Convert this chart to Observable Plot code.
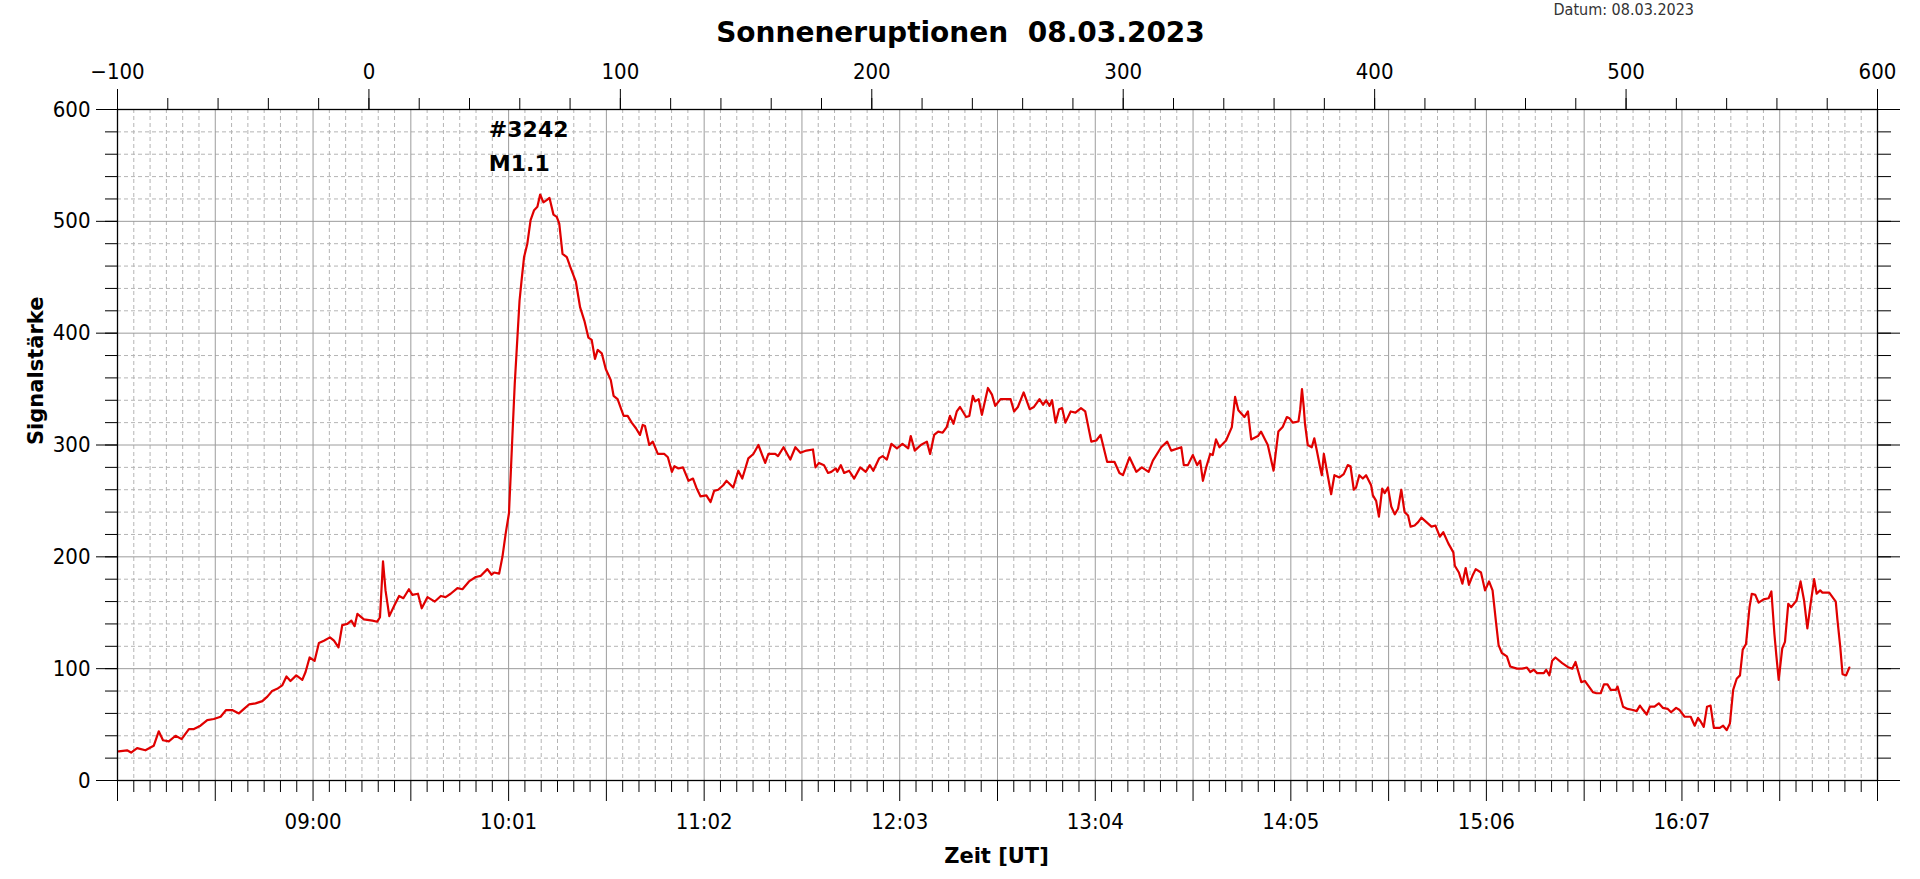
<!DOCTYPE html>
<html>
<head>
<meta charset="utf-8">
<script src="https://cdn.jsdelivr.net/npm/d3@7"></script>
<script src="https://cdn.jsdelivr.net/npm/@observablehq/plot@0.6"></script>
<style>
  html, body { margin: 0; padding: 0; background: #fff; }
</style>
</head>
<body>
<div id="chart"></div>
<script>
const titleText = "Sonneneruptionen  08.03.2023";
const datumText = "Datum: 08.03.2023";
const yLabel = "Signalstärke";
const xLabel = "Zeit [UT]";

const topTicks = [-100, 0, 100, 200, 300, 400, 500, 600];
const yTicks = [0, 100, 200, 300, 400, 500, 600];
const timeLabels = ["09:00", "10:01", "11:02", "12:03", "13:04", "14:05", "15:06", "16:07"];

const annotX = [47.7, 47.7];
const annotY = [575, 545];
const annotText = ["#3242", "M1.1"];

const sampleX = [
-99.5,-96.2,-94.6,-92.2,-88.9,-85.6,-83.6,-81.9,-79.6,-76.9,-74.5,-71.6,-69.6,-67.0,-64.3,-61.7,-59.0,-56.8,-54.4,-51.7,
-49.7,-47.7,-45.1,-42.4,-40.4,-38.5,-36.5,-34.5,-32.8,-31.2,-28.9,-26.5,-25.2,-23.6,-21.6,-19.9,-17.9,-15.5,-13.9,-12.1,
-10.6,-8.6,-7.0,-5.7,-4.6,-2.0,1.4,3.3,4.4,5.6,6.6,8.1,10.0,12.0,13.7,15.9,17.3,19.5,21.0,23.3,
26.2,28.6,30.5,32.5,35.2,37.2,39.8,42.5,44.5,47.1,48.8,49.8,51.8,53.1,54.4,55.7,56.4,57.1,58.0,59.0,
59.9,60.7,61.7,63.0,64.3,65.7,67.0,68.1,69.4,70.7,71.8,73.4,74.7,75.7,77.0,78.7,80.3,82.3,84.0,85.7,
87.3,88.6,89.9,91.0,92.6,94.2,96.2,97.3,98.9,101.3,102.9,104.5,106.2,107.8,108.9,109.8,111.5,112.9,114.9,117.5,
118.9,120.5,121.5,123.1,124.9,127.1,128.9,130.2,131.9,134.2,135.9,137.3,138.9,140.9,142.2,144.9,146.9,148.5,150.9,152.9,
154.9,157.6,158.9,161.6,162.7,164.9,167.6,169.6,171.6,174.0,176.6,177.6,179.0,181.0,182.6,183.9,185.7,186.3,187.7,189.0,
191.0,193.0,195.4,197.6,199.2,200.6,202.9,204.3,206.0,207.8,210.0,212.2,214.5,215.5,217.1,219.5,221.9,223.2,224.8,226.4,
228.2,229.8,231.1,232.5,233.8,235.1,237.5,238.8,240.2,241.1,242.5,243.8,246.2,247.8,249.1,251.2,255.2,256.6,258.1,260.4,
262.8,264.5,266.7,268.1,269.4,270.7,271.7,273.1,274.5,275.7,277.0,279.1,281.0,283.2,284.9,287.3,289.3,291.0,293.6,296.5,
298.5,299.9,302.5,305.2,307.4,310.1,311.8,315.1,317.5,319.1,323.1,324.1,325.7,327.7,329.4,330.6,331.7,333.0,334.6,335.6,
336.9,338.3,340.9,343.2,344.5,345.8,348.2,349.6,350.9,353.6,354.8,357.5,359.8,361.7,363.4,365.1,366.1,367.4,369.7,370.4,
371.1,371.8,372.3,373.4,375.0,376.0,377.1,378.4,379.0,379.8,381.0,382.7,384.0,386.0,387.7,389.3,390.4,391.7,392.6,393.9,
395.3,396.6,398.6,399.3,400.6,401.7,403.0,404.0,405.3,406.6,408.0,409.3,410.6,411.9,413.3,414.3,415.9,417.3,418.6,420.6,
422.6,424.2,425.9,427.3,429.3,431.3,431.9,433.5,434.9,436.2,437.5,438.9,440.2,442.3,443.9,445.5,446.9,448.2,449.3,450.6,
452.6,453.9,456.6,458.6,460.6,461.9,463.3,464.6,467.3,468.2,469.5,470.6,471.9,474.6,477.2,478.6,479.9,482.2,483.6,486.8,
488.2,489.9,491.2,492.6,493.9,495.9,496.6,498.8,500.6,502.8,504.2,505.5,506.8,508.2,509.5,511.3,513.0,514.6,516.6,517.9,
519.9,521.3,523.3,525.7,527.3,528.6,529.6,530.9,532.2,533.6,534.9,537.3,538.6,540.0,541.3,542.6,544.0,545.3,546.4,547.7,
549.1,550.0,551.4,552.7,554.7,556.7,557.8,559.0,559.8,560.7,562.1,563.2,564.5,565.7,567.8,569.4,570.8,572.1,573.4,574.8,
575.8,577.2,578.1,580.8,583.4,584.1,585.2,586.1,587.5,588.8
];

const signal = [
26,27,25,29,27,31,44,36,35,40,37,46,46,49,54,55,57,63,63,60,
64,68,69,71,75,80,82,85,93,89,94,90,97,110,107,123,125,128,125,119,
139,140,143,138,149,144,143,142,146,196,170,147,156,165,163,171,166,167,154,164,
160,165,164,167,172,171,178,182,183,189,184,186,185,200,221,239,274,310,355,394,
429,447,468,480,501,510,513,524,517,519,521,506,504,498,471,468,458,446,423,411,
396,394,377,385,382,368,358,344,341,326,326,320,315,309,318,317,300,303,292,292,
289,276,281,279,280,268,270,262,254,255,249,259,260,264,268,262,277,270,288,292,
300,284,292,292,290,298,287,298,293,295,296,280,284,282,275,276,279,276,282,275,
277,270,280,276,282,277,288,290,287,301,297,301,297,308,295,300,303,292,309,312,
311,316,326,319,330,334,325,326,344,339,341,327,351,345,335,341,341,330,334,347,
332,334,341,336,340,335,340,320,332,333,320,330,329,333,330,303,304,309,285,285,
275,273,289,276,280,276,286,298,303,295,298,282,282,291,282,286,268,280,292,291,
305,298,304,316,343,331,325,330,305,308,312,300,277,312,316,325,324,320,321,332,
350,334,319,300,298,306,294,279,273,292,277,256,273,271,274,282,281,260,262,273,
270,273,264,255,250,236,261,257,262,245,238,243,260,240,237,227,228,231,235,231,
227,228,218,222,212,204,192,186,176,190,175,183,189,186,170,178,170,143,121,114,
111,102,100,100,101,97,99,96,96,99,94,107,110,105,101,100,106,88,89,79,
78,78,86,86,81,81,84,66,64,63,62,67,63,59,66,66,69,65,64,61,
65,63,57,57,49,56,53,48,66,67,47,47,49,45,51,81,91,94,117,122,
155,167,166,159,162,163,169,131,111,90,118,124,158,155,161,178,161,136,158,180,
167,170,168,168,160,143,119,95,94,101
];

const data = sampleX.map((x, i) => ({x, y: signal[i]}));
const annotations = annotText.map((t, i) => ({x: annotX[i], y: annotY[i], text: t}));

// bottom (time) axis: 18 major intervals across the x domain, 6 minor per major
const xMin = topTicks[0], xMax = topTicks[topTicks.length - 1];
const nMajor = 18, nSub = 6;
const bottomPos = k => xMin + k * (xMax - xMin) / (nMajor * nSub);
const bottomMajor = d3.range(0, nMajor + 1).map(i => bottomPos(i * nSub));
const bottomMinor = d3.range(0, nMajor * nSub + 1).filter(k => k % nSub !== 0).map(bottomPos);
const labelPos = (d, i) => bottomPos((2 + 2 * i) * nSub);

const yMinorAll = d3.range(0, 601, 20);
const yMinorGrid = yMinorAll.filter(v => v % 100 !== 0);
const yMajorGrid = yTicks.filter(v => v > 0 && v < 600);
const topMinor = d3.range(-100, 601, 20);

const fontTicks = "'DejaVu Sans Condensed', 'DejaVu Sans', sans-serif";
const fontBold = "'DejaVu Sans', sans-serif";
const gridDash = "#b4b4b4";
const gridSolid = "#9c9c9c";

const chart = Plot.plot({
  width: 1920,
  height: 879,
  marginLeft: 117,
  marginRight: 43,
  marginTop: 109,
  marginBottom: 99,
  x: {domain: [xMin, xMax]},
  y: {domain: [0, 600]},
  style: {fontFamily: fontTicks, fontSize: "22px", color: "black", background: "white", overflow: "visible"},
  marks: [
    Plot.ruleY(yMinorGrid, {stroke: gridDash, strokeDasharray: "4,3"}),
    Plot.ruleX(bottomMinor, {stroke: gridDash, strokeDasharray: "4,3"}),
    Plot.ruleY(yMajorGrid, {stroke: gridSolid}),
    Plot.ruleX(bottomMajor.slice(1, -1), {stroke: gridSolid}),
    Plot.line(data, {x: "x", y: "y", stroke: "#e00000", strokeWidth: 2.2}),
    Plot.frame({stroke: "black", strokeWidth: 1.3}),
    // top axis
    Plot.axisX({anchor: "top", ticks: topTicks, tickSize: 21, tickPadding: 10, label: null, fontSize: 22}),
    Plot.axisX({anchor: "top", ticks: topMinor, tickSize: 12, tickFormat: () => "", label: null}),
    // bottom axis
    Plot.axisX({anchor: "bottom", ticks: bottomMajor, tickSize: 21, tickFormat: () => "", label: null}),
    Plot.axisX({anchor: "bottom", ticks: bottomMinor, tickSize: 12, tickFormat: () => "", label: null}),
    Plot.text(timeLabels, {x: labelPos, text: d => d, frameAnchor: "bottom", dy: 33, lineAnchor: "top", fontSize: 22}),
    // left axis
    Plot.axisY({anchor: "left", ticks: yTicks, tickSize: 21, tickPadding: 6, label: null, fontSize: 22}),
    Plot.axisY({anchor: "left", ticks: yMinorAll, tickSize: 12, tickFormat: () => "", label: null}),
    // right axis
    Plot.axisY({anchor: "right", ticks: yTicks, tickSize: 22, tickFormat: () => "", label: null}),
    Plot.axisY({anchor: "right", ticks: yMinorAll, tickSize: 13, tickFormat: () => "", label: null}),
    // annotation
    Plot.text(annotations, {x: "x", y: "y", text: "text", textAnchor: "start", lineAnchor: "bottom", fontSize: 22, fontWeight: "bold", fontFamily: fontBold}),
    // titles and labels
    Plot.text([titleText], {frameAnchor: "top", dx: -37, dy: -68, lineAnchor: "bottom", fontSize: 28, fontWeight: "bold", fontFamily: fontBold}),
    Plot.text([datumText], {frameAnchor: "top-left", dx: 1436, dy: -95, textAnchor: "start", lineAnchor: "bottom", fontSize: 16, fill: "#333", fontFamily: fontTicks}),
    Plot.text([yLabel], {frameAnchor: "left", dx: -75, rotate: -90, lineAnchor: "bottom", fontSize: 21, fontWeight: "bold", fontFamily: fontBold}),
    Plot.text([xLabel], {frameAnchor: "bottom", dx: -1, dy: 82, lineAnchor: "bottom", fontSize: 21, fontWeight: "bold", fontFamily: fontBold})
  ]
});

document.getElementById("chart").appendChild(chart);
</script>
</body>
</html>
